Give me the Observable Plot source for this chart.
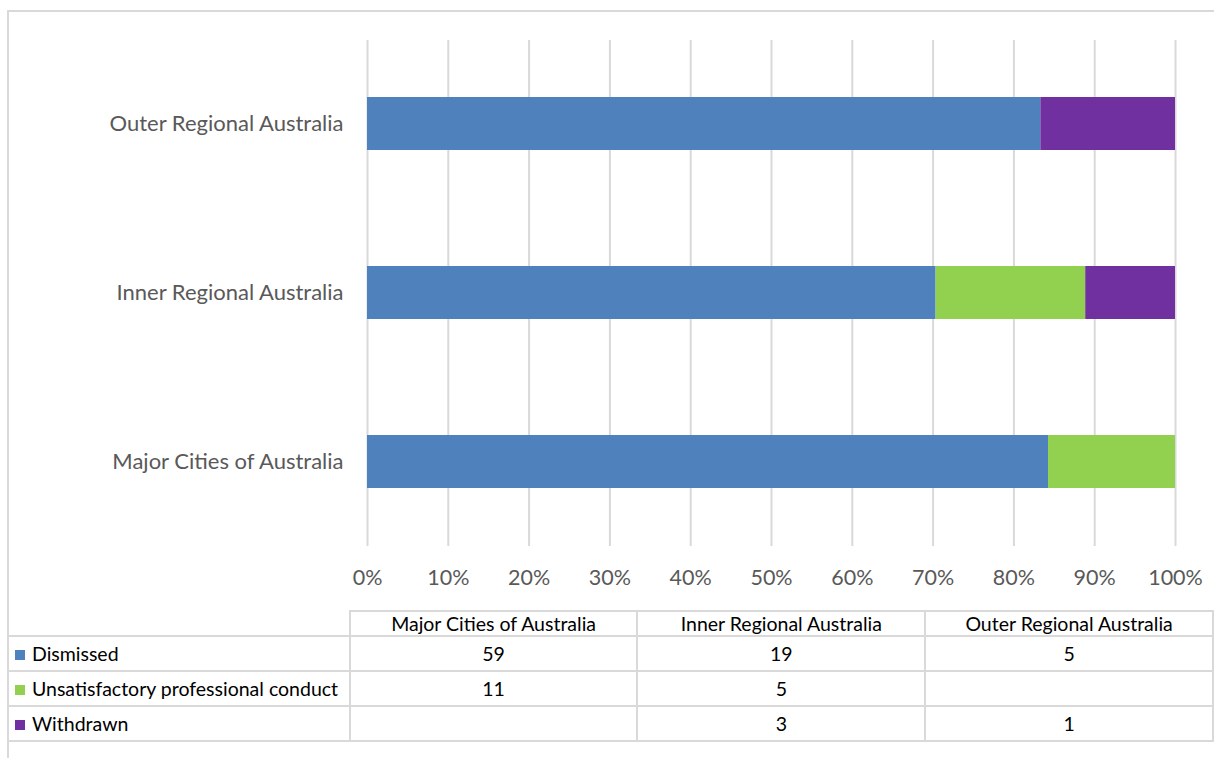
<!DOCTYPE html>
<html>
<head>
<meta charset="utf-8">
<script src="https://cdn.jsdelivr.net/npm/d3@7"></script>
<script src="https://cdn.jsdelivr.net/npm/@observablehq/plot@0.6"></script>
<style>
  html, body { margin: 0; padding: 0; background: #fff; }
  #wrap { position: relative; width: 1214px; height: 758px; overflow: hidden; background: #fff; font-family: Lato, "Open Sans", sans-serif; }
  #frame { position: absolute; left: 7px; top: 10px; width: 1300px; height: 900px; border-left: 2px solid #d9d9d9; border-top: 2px solid #d9d9d9; }
  #chart { position: absolute; left: 0; top: 0; }
  #tbl { position: absolute; left: 9px; top: 610px; border-collapse: collapse; font-size: 19.5px; color: #000; table-layout: fixed; }
  #tbl td { border: 2px solid #d9d9d9; padding: 0; white-space: nowrap; line-height: 1; }
  #tbl td.num { text-align: center; width: 288px; }
  #tbl td.lab { width: 340px; text-align: left; border-left: none; }
  #tbl tr.head td { height: 23px; }
  #tbl tr.row td { height: 33px; }
  #tbl td.corner { border-top: none; border-left: none; }
  .sw { display: inline-block; width: 10px; height: 10px; margin: 0 7px 0 6px; vertical-align: 1px; }
</style>
</head>
<body>
<div id="wrap">
  <div id="frame"></div>
  <div id="chart"></div>
  <table id="tbl"></table>
</div>
<script>
// Data
const categories = ["Major Cities of Australia", "Inner Regional Australia", "Outer Regional Australia"];
const seriesNames = ["Dismissed", "Unsatisfactory professional conduct", "Withdrawn"];
const dismissed = [59, 19, 5];
const unsatisfactory = [11, 5, null];
const withdrawn = [null, 3, 1];
const seriesColors = ["#4F81BD", "#92D050", "#7030A0"];
const xTicks = [0, 0.1, 0.2, 0.3, 0.4, 0.5, 0.6, 0.7, 0.8, 0.9, 1];

const seriesValues = [dismissed, unsatisfactory, withdrawn];
const rows = [];
seriesNames.forEach((s, si) => {
  categories.forEach((c, ci) => {
    const v = seriesValues[si][ci];
    if (v != null) rows.push({series: s, category: c, value: v});
  });
});

const chart = Plot.plot({
  width: 1214,
  height: 600,
  marginLeft: 367,
  marginRight: 39,
  marginTop: 40,
  marginBottom: 54,
  style: {fontFamily: "Lato, 'Open Sans', sans-serif", fontSize: "21.5px", color: "#595959", background: "transparent"},
  x: {domain: [0, 1], ticks: xTicks, tickFormat: d3.format(".0%"), tickSize: 0, tickPadding: 23, label: null},
  y: {domain: categories.slice().reverse(), paddingInner: 0.686, paddingOuter: 0.34, tickSize: 0, tickPadding: 24, label: null},
  color: {domain: seriesNames, range: seriesColors},
  marks: [
    Plot.ruleX(xTicks, {stroke: "#d9d9d9", strokeWidth: 2}),
    Plot.barX(rows, Plot.stackX({x: "value", y: "category", fill: "series", offset: "normalize", order: seriesNames}))
  ]
});
chart.querySelectorAll('[aria-label="y-axis tick label"] text').forEach(t => t.style.fontSize = "22px");
document.getElementById("chart").appendChild(chart);

// Data table below the chart
const tbl = document.getElementById("tbl");
let html = '<tr class="head"><td class="lab corner"></td>';
categories.forEach(c => { html += `<td class="num">${c}</td>`; });
html += '</tr>';
seriesNames.forEach((s, si) => {
  html += `<tr class="row"><td class="lab"><span class="sw" style="background:${seriesColors[si]}"></span>${s}</td>`;
  categories.forEach((c, ci) => {
    const v = seriesValues[si][ci];
    html += `<td class="num">${v == null ? "" : v}</td>`;
  });
  html += '</tr>';
});
tbl.innerHTML = html;
</script>
</body>
</html>
